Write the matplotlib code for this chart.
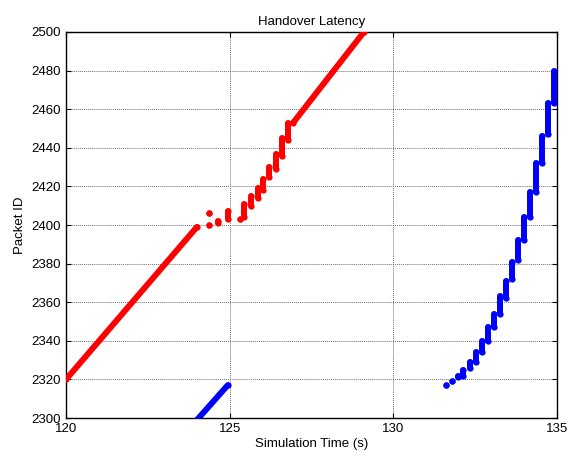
import matplotlib
matplotlib.use("Agg")
import matplotlib.pyplot as plt

plt.rcParams['font.family'] = ['Liberation Sans', 'DejaVu Sans']

# red series: each run goes from (t0, id0) to (t1, id1); a single dot has equal ends
red_t0 = [120.00, 124.37, 124.38, 124.63, 124.94, 125.30, 125.44, 125.65, 125.85,
          126.03, 126.20, 126.41, 126.59, 126.77, 126.94]
red_id0 = [2320, 2406, 2400, 2401, 2403, 2403, 2404, 2410, 2414,
           2418, 2425, 2429, 2436, 2444, 2453]
red_t1 = [124.00, 124.37, 124.38, 124.63, 124.94, 125.30, 125.44, 125.65, 125.85,
          126.03, 126.20, 126.41, 126.59, 126.77, 129.10]
red_id1 = [2399, 2406, 2400, 2402, 2407, 2403, 2411, 2415, 2419,
           2424, 2430, 2437, 2445, 2453, 2500]

# blue series
blue_t0 = [124.00, 131.61, 131.78, 131.96, 132.14, 132.34, 132.52, 132.70, 132.89,
           133.07, 133.26, 133.43, 133.62, 133.81, 134.00, 134.18, 134.36, 134.54,
           134.73, 134.92]
blue_id0 = [2299, 2317, 2319, 2321, 2322, 2326, 2329, 2334, 2340,
            2347, 2354, 2362, 2372, 2382, 2392, 2404, 2417, 2432,
            2447, 2463]
blue_t1 = [124.94, 131.61, 131.78, 131.96, 132.14, 132.34, 132.52, 132.70, 132.89,
           133.07, 133.26, 133.43, 133.62, 133.81, 134.00, 134.18, 134.36, 134.54,
           134.73, 134.92]
blue_id1 = [2317, 2317, 2319, 2322, 2325, 2329, 2334, 2340, 2347,
            2354, 2363, 2371, 2381, 2392, 2404, 2417, 2432, 2446,
            2463, 2480]

x_ticks = [120, 125, 130, 135]
y_ticks = list(range(2300, 2501, 20))

fig = plt.figure(figsize=(5.69, 4.59), dpi=100)
ax = fig.add_axes([0.116, 0.0893, 0.863, 0.841])

for t0, i0, t1, i1 in zip(red_t0, red_id0, red_t1, red_id1):
    ax.plot([t0, t1], [i0, i1], color='red', lw=4.3, solid_capstyle='round',
            marker='o', ms=4.5, mew=0, zorder=3)
for t0, i0, t1, i1 in zip(blue_t0, blue_id0, blue_t1, blue_id1):
    ax.plot([t0, t1], [i0, i1], color='blue', lw=4.3, solid_capstyle='round',
            marker='o', ms=4.5, mew=0, zorder=3)

ax.set_xlim(120, 135)
ax.set_ylim(2300, 2500)
ax.set_xticks(x_ticks)
ax.set_yticks(y_ticks)
ax.grid(True, color='#707070', linestyle=(0, (1, 1)), linewidth=0.7)
ax.tick_params(direction='in', top=True, right=True, length=3.5, labelsize=9.5,
               width=0.8)
for s in ax.spines.values():
    s.set_linewidth(1.0)

ax.set_title('Handover Latency', fontsize=9.5, pad=5)
ax.set_xlabel('Simulation Time (s)', fontsize=9.5, labelpad=2)
ax.set_ylabel('Packet ID', fontsize=9.5, labelpad=4)

fig.savefig('out.png', dpi=100)
